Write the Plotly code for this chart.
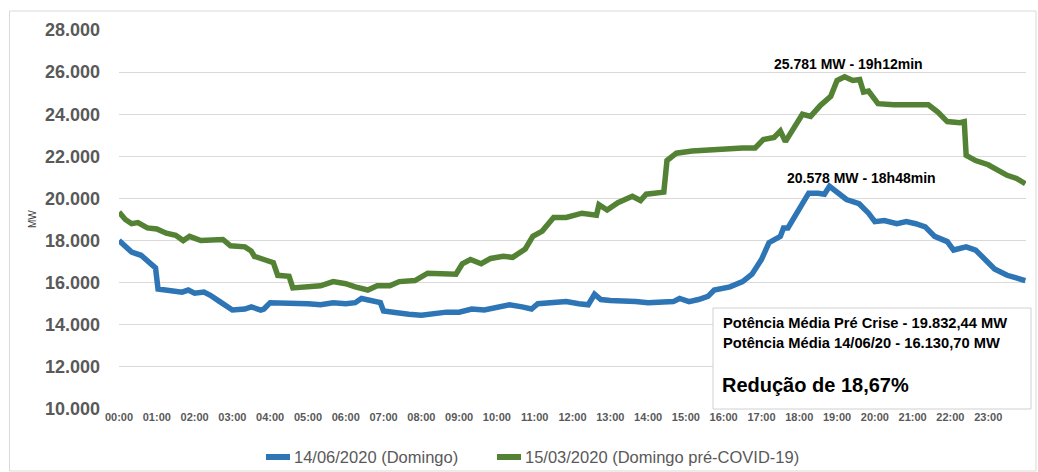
import plotly.graph_objects as go

# ---- data ----
blue_name = "14/06/2020 (Domingo)"
blue_times = ["00:00","00:10","00:20","00:35","00:50","00:58","01:02","01:20","01:40","01:50",
              "02:00","02:15","02:25","02:40","02:50","03:00","03:20","03:30","03:45","03:50",
              "04:00","04:20","04:40","05:00","05:20","05:40","06:00","06:15","06:25","06:45",
              "06:55","07:00","07:20","07:40","08:00","08:20","08:40","09:00","09:20","09:40",
              "10:00","10:20","10:40","10:55","11:05","11:30","11:50","12:10","12:25","12:35",
              "12:45","13:00","13:20","13:40","14:00","14:20","14:40","14:50","15:05","15:20",
              "15:35","15:45","16:10","16:30","16:45","17:00","17:12","17:30","17:35","17:42",
              "17:55","18:05","18:15","18:30","18:40","18:48","19:00","19:15","19:35","19:50",
              "20:00","20:15","20:35","20:50","21:05","21:20","21:35","21:55","22:05","22:25",
              "22:40","22:55","23:10","23:30","23:45","23:59"]
blue_mw = [18000,17700,17450,17300,16900,16700,15700,15650,15550,15650,
           15500,15550,15400,15100,14900,14700,14750,14850,14700,14750,
           15050,15050,15000,15000,14950,15050,15000,15050,15250,15150,
           15050,14650,14550,14500,14450,14550,14600,14600,14750,14700,
           14850,14950,14850,14750,15000,15050,15100,15000,14950,15450,
           15200,15150,15150,15100,15050,15050,15100,15250,15100,15200,
           15350,15650,15800,16050,16400,17100,17900,18200,18600,18600,
           19300,19800,20250,20250,20200,20578,20300,19950,19750,19300,
           18900,18950,18800,18900,18800,18650,18200,17950,17550,17700,
           17550,17100,16650,16350,16200,16100]

green_name = "15/03/2020 (Domingo pré-COVID-19)"
green_times = ["00:00","00:10","00:20","00:30","00:45","01:00","01:15","01:30","01:42","01:52",
               "02:10","02:30","02:45","02:57","03:20","03:30","03:35","03:50","04:05","04:12",
               "04:30","04:36","05:00","05:20","05:40","06:00","06:15","06:35","06:50","07:10",
               "07:25","07:50","08:10","08:30","08:55","09:05","09:18","09:35","09:50","10:10",
               "10:25","10:45","10:57","11:12","11:30","11:50","12:15","12:38","12:42","12:55",
               "13:12","13:35","13:48","13:57","14:15","14:25","14:30","14:45","15:10","15:30",
               "15:50","16:10","16:30","16:50","17:03","17:20","17:30","17:38","17:50","18:05",
               "18:18","18:33","18:50","19:00","19:12","19:25","19:36","19:42","19:50","20:05",
               "20:30","21:00","21:25","21:40","21:55","22:15","22:22","22:25","22:40","23:00",
               "23:15","23:30","23:45","23:59"]
green_mw = [19350,19000,18800,18850,18600,18550,18350,18250,18000,18200,
            18000,18050,18050,17750,17700,17500,17250,17100,16950,16350,
            16300,15750,15800,15850,16050,15950,15800,15650,15850,15850,
            16050,16100,16450,16400,16400,16900,17100,16900,17150,17250,
            17200,17600,18200,18450,19100,19100,19300,19200,19700,19450,
            19800,20100,19900,20200,20250,20300,21800,22150,22250,22300,
            22350,22350,22400,22400,22800,22900,23200,22700,23300,24000,
            23900,24400,24850,25600,25781,25600,25650,25050,25100,24500,
            24450,24450,24450,24100,23650,23600,23650,22050,21800,21600,
            21350,21100,20950,20700]

tick_hours = list(range(24))
tick_labels = [f"{h:02d}:00" for h in tick_hours]
y_ticks = [10000, 12000, 14000, 16000, 18000, 20000, 22000, 24000, 26000, 28000]

peak_green_label = "25.781 MW - 19h12min"
peak_blue_label = "20.578 MW - 18h48min"
box_lines = ["Potência Média Pré Crise - 19.832,44 MW",
             "Potência Média 14/06/20 - 16.130,70 MW"]
box_result = "Redução de 18,67%"


def to_hours(t):
    h, m = t.split(":")
    return int(h) + int(m) / 60.0


FONT = "Liberation Sans"
GREY = "#595959"
BLUE = "#2E75B6"
GREEN = "#548235"

W, H = 1038, 472
L, R, T, B = 119, 12, 30, 63
PW, PH = W - L - R, H - T - B


def px(x):  # pixel x -> paper
    return (x - L) / PW


def py(y):  # pixel y -> paper
    return (H - B - y) / PH


fig = go.Figure()
fig.add_trace(go.Scatter(x=[to_hours(t) for t in blue_times], y=blue_mw, mode="lines",
                         name=blue_name, line=dict(color=BLUE, width=5.5)))
fig.add_trace(go.Scatter(x=[to_hours(t) for t in green_times], y=green_mw, mode="lines",
                         name=green_name, line=dict(color=GREEN, width=5.5)))

fig.update_layout(
    width=W, height=H, autosize=False,
    margin=dict(l=L, r=R, t=T, b=B, pad=0),
    paper_bgcolor="white", plot_bgcolor="white",
    separators=",.",
    font=dict(family=FONT, color=GREY),
    showlegend=False,
)
fig.update_xaxes(range=[0, 24], tickvals=tick_hours, ticktext=tick_labels, tickangle=0,
                 showgrid=False, zeroline=False, showline=False, ticks="", automargin=False,
                 tickfont=dict(family=FONT, size=11, color=GREY, weight="bold"))
fig.update_yaxes(range=[10000, 28000], tickvals=y_ticks, tickformat=",.0f",
                 showgrid=True, gridcolor="#D9D9D9", gridwidth=1, zeroline=False,
                 showline=False, ticks="", ticklabelstandoff=18, automargin=False,
                 tickfont=dict(family=FONT, size=18, color=GREY, weight="bold"))

shapes = [
    dict(type="rect", xref="paper", yref="paper", x0=px(9.5), x1=px(1036), y0=py(471), y1=py(11),
         line=dict(color="#D9D9D9", width=1), fillcolor="rgba(0,0,0,0)", layer="below"),
    dict(type="rect", xref="paper", yref="paper", x0=px(713), x1=px(1031), y0=py(409), y1=py(308),
         line=dict(color="#D0D0D0", width=1), fillcolor="white", layer="above"),
    # legend keys
    dict(type="line", xref="paper", yref="paper", x0=px(266), x1=px(290), y0=py(457), y1=py(457),
         line=dict(color=BLUE, width=6)),
    dict(type="line", xref="paper", yref="paper", x0=px(497), x1=px(521), y0=py(457), y1=py(457),
         line=dict(color=GREEN, width=6)),
]
fig.update_layout(shapes=shapes)

annotations = [
    dict(text="MW", xref="paper", yref="paper", x=px(32), y=py(219), textangle=-90,
         xanchor="center", yanchor="middle",
         showarrow=False, font=dict(family=FONT, size=10, color="#404040")),
    dict(text=f"<b>{peak_green_label}</b>", xref="x", yref="y", x=19.31, y=26384,
         xanchor="center", yanchor="middle",
         showarrow=False, font=dict(family=FONT, size=14, color="black")),
    dict(text=f"<b>{peak_blue_label}</b>", xref="x", yref="y", x=19.66, y=20970,
         xanchor="center", yanchor="middle",
         showarrow=False, font=dict(family=FONT, size=14, color="black")),
    dict(text=f"<b>{box_lines[0]}</b>", xref="paper", yref="paper", x=px(721), y=py(323),
         xanchor="left", yanchor="middle",
         showarrow=False, font=dict(family=FONT, size=14.7, color="black")),
    dict(text=f"<b>{box_lines[1]}</b>", xref="paper", yref="paper", x=px(721), y=py(343),
         xanchor="left", yanchor="middle",
         showarrow=False, font=dict(family=FONT, size=14.7, color="black")),
    dict(text=f"<b>{box_result}</b>", xref="paper", yref="paper", x=px(720), y=py(385),
         xanchor="left", yanchor="middle",
         showarrow=False, font=dict(family=FONT, size=20, color="black")),
    # legend texts
    dict(text=blue_name, xref="paper", yref="paper", x=px(292), y=py(457),
         xanchor="left", yanchor="middle",
         showarrow=False, font=dict(family=FONT, size=16.5, color=GREY)),
    dict(text=green_name, xref="paper", yref="paper", x=px(523), y=py(457),
         xanchor="left", yanchor="middle",
         showarrow=False, font=dict(family=FONT, size=16.5, color=GREY)),
]
fig.update_layout(annotations=annotations)

fig.write_html("out.html", config={"displayModeBar": False},
               post_script="document.body.style.margin='0';document.body.style.padding='0';")
